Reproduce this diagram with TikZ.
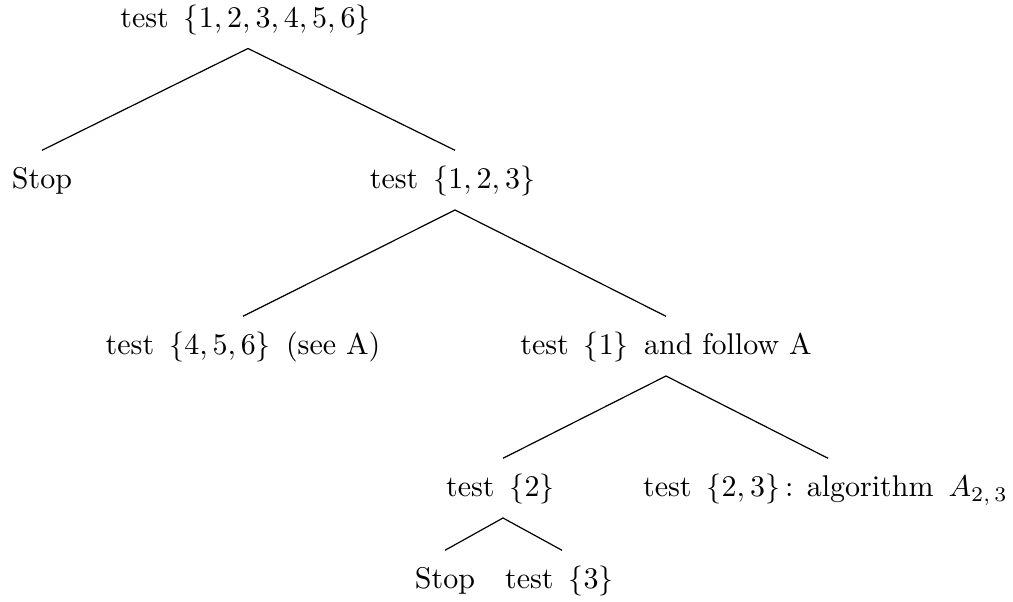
\documentclass[tikz,border=0pt]{standalone}
\begin{document}
\begin{tikzpicture}[x=0.33333pt,y=-0.33333pt,
  tn/.style={anchor=base,inner xsep=0pt,inner ysep=3.8pt,text height=8.9pt,text depth=3pt},
  edge/.style={draw,line width=0.4pt}]
\mathsurround=1.7pt
\useasboundingbox (0,0) rectangle (1013,602);
\node[tn] (r) at (248,27.5) {test $\{1,2,3,4,5,6\}$};
\node[tn] (s1) at (42,189) {Stop};
\node[tn] (t123) at (455,189) {test $\{1,2,3\}$};
\node[tn] (t456) at (243,355) {test $\{4,5,6\}$ (see A)};
\node[tn] (t1) at (666,355) {test $\{1\}$ and follow A};
\node[tn] (t2) at (503,497) {test $\{2\}$};
\node[tn] (t23) at (828,497) {test $\{2,3\}$: algorithm $A_{2,\,3}$};
\node[tn] (s2) at (445,589) {Stop};
\node[tn] (t3) at (562,589) {test $\{3\}$};
\draw[edge] (s1.north) -- (r.south) -- (t123.north);
\draw[edge] (t456.north) -- (t123.south) -- (t1.north);
\draw[edge] (t2.north) -- (t1.south) -- (t23.north);
\draw[edge] (s2.north) -- (t2.south) -- (t3.north);
\end{tikzpicture}
\end{document}
